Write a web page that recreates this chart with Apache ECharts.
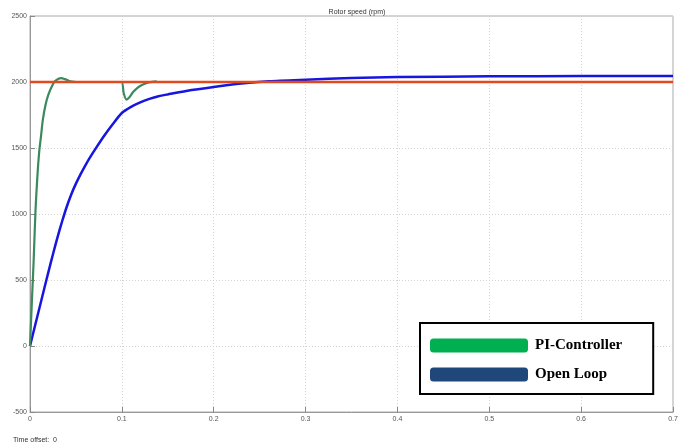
<!DOCTYPE html>
<html>
<head>
<meta charset="utf-8">
<style>
  html, body { margin: 0; padding: 0; background: #fff; }
  #chart { width: 691px; height: 443px; }
</style>
<script src="https://cdn.jsdelivr.net/npm/echarts@6/dist/echarts.min.js"></script>
</head>
<body>
<div id="chart"></div>
<script>
// Rotor speed (rpm) vs. time (s)
const openLoopTime = [0, 0.005, 0.01, 0.015, 0.02, 0.025, 0.03, 0.035, 0.04, 0.045, 0.05, 0.055, 0.06, 0.065, 0.07, 0.08, 0.09, 0.1, 0.11, 0.12, 0.13, 0.14, 0.15, 0.17, 0.2, 0.23, 0.26, 0.3, 0.35, 0.4, 0.5, 0.6, 0.7];
const openLoopSpeed = [0, 140, 280, 420, 560, 695, 825, 945, 1055, 1150, 1230, 1300, 1365, 1425, 1480, 1585, 1680, 1765, 1812, 1846, 1872, 1892, 1906, 1932, 1962, 1988, 2005, 2017, 2030, 2037, 2043, 2045, 2046];

const piTime = [0, 0.002, 0.004, 0.006, 0.008, 0.01, 0.012, 0.014, 0.017, 0.02, 0.024, 0.027, 0.031, 0.034, 0.038, 0.042, 0.046, 0.05, 0.06, 0.08, 0.0995, 0.102, 0.105, 0.108, 0.112, 0.117, 0.123, 0.13, 0.138];
const piSpeed = [0, 330, 650, 1030, 1280, 1470, 1590, 1715, 1830, 1905, 1970, 2005, 2025, 2030, 2022, 2010, 2003, 2000, 2000, 2000, 2000, 1915, 1866, 1882, 1922, 1956, 1981, 1998, 2005];

const refTime = [0, 0.7];
const refSpeed = [2000, 2000];

const xTicks = [0, 0.1, 0.2, 0.3, 0.4, 0.5, 0.6, 0.7];
const yTicks = [-500, 0, 500, 1000, 1500, 2000, 2500];

const zip = (a, b) => a.map((v, i) => [v, b[i]]);

const chart = echarts.init(document.getElementById('chart'), null, { renderer: 'canvas' });

const tickLabel = { fontSize: 7, color: '#555', fontFamily: 'Liberation Sans' };

chart.setOption({
  backgroundColor: '#fff',
  animation: false,
  title: [
    { text: 'Rotor speed (rpm)', left: 352, top: 4, textAlign: 'center',
      textStyle: { fontSize: 7, fontWeight: 'normal', color: '#333', fontFamily: 'Liberation Sans' } },
    { text: 'Time offset:  0', left: 8, top: 432,
      textStyle: { fontSize: 7, fontWeight: 'normal', color: '#333', fontFamily: 'Liberation Sans' } }
  ],
  grid: { left: 30, right: 18, top: 16, bottom: 31, show: true, borderColor: '#aaa', borderWidth: 1, backgroundColor: '#fff' },
  xAxis: {
    type: 'value', min: xTicks[0], max: xTicks[xTicks.length - 1], interval: 0.1,
    axisLine: { onZero: false, lineStyle: { color: '#999' } },
    axisTick: { inside: true, length: 5, lineStyle: { color: '#888' } },
    axisLabel: Object.assign({ margin: 4, formatter: v => v === 0 ? '0' : v.toFixed(1) }, tickLabel),
    splitLine: { lineStyle: { color: '#d4d4d4', type: [1, 2] } }
  },
  yAxis: {
    type: 'value', min: yTicks[0], max: yTicks[yTicks.length - 1], interval: 500,
    axisLine: { show: true, onZero: false, lineStyle: { color: '#999' } },
    axisTick: { show: true, inside: true, length: 5, lineStyle: { color: '#888' } },
    axisLabel: Object.assign({ margin: 3, formatter: v => String(v) }, tickLabel),
    splitLine: { lineStyle: { color: '#d4d4d4', type: [1, 2] } }
  },
  legend: {
    orient: 'vertical', left: 420, top: 323,
    data: [
      { name: 'PI-Controller', icon: 'roundRect', itemStyle: { color: '#00b050' } },
      { name: 'Open Loop', icon: 'roundRect', itemStyle: { color: '#1f477a' } }
    ],
    itemWidth: 98, itemHeight: 14, itemGap: 14,
    padding: [15, 31, 12, 10],
    borderColor: '#000', borderWidth: 2, backgroundColor: '#fff',
    selectedMode: false,
    textStyle: { fontFamily: 'Liberation Serif', fontWeight: 'bold', fontSize: 15, color: '#000', padding: [0, 0, 0, 2] }
  },
  series: [
    { name: 'Open Loop', type: 'line', data: zip(openLoopTime, openLoopSpeed), smooth: 0.25, showSymbol: false,
      lineStyle: { color: '#1616e0', width: 2.5 }, itemStyle: { color: '#1616e0' }, z: 2 },
    { name: 'PI-Controller', type: 'line', data: zip(piTime, piSpeed), smooth: 0.25, showSymbol: false,
      lineStyle: { color: '#3a8a5c', width: 2.2 }, itemStyle: { color: '#3a8a5c' }, z: 3 },
    { name: 'Reference', type: 'line', data: zip(refTime, refSpeed), showSymbol: false,
      lineStyle: { color: '#e4481e', width: 2.5 }, itemStyle: { color: '#e4481e' }, z: 4 }
  ]
});
</script>
</body>
</html>
